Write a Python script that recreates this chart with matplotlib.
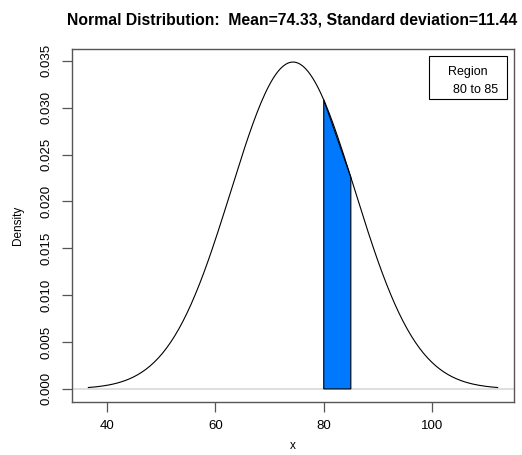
import numpy as np
import matplotlib.pyplot as plt

plt.rcParams['font.family'] = ['Liberation Sans', 'DejaVu Sans']

# distribution parameters as printed in the title
mean = 74.33
sd = 11.44
region = [80, 85]
x_ticks = [40, 60, 80, 100]
y_ticks = [0.000, 0.005, 0.010, 0.015, 0.020, 0.025, 0.030, 0.035]


def dnorm(v):
    return np.exp(-0.5 * ((v - mean) / sd) ** 2) / (sd * np.sqrt(2 * np.pi))


x = np.linspace(mean - 3.3 * sd, mean + 3.3 * sd, 200)
y = dnorm(x)

fig = plt.figure(figsize=(5.22, 4.55), dpi=100)
ax = fig.add_axes([72 / 522, 1 - 402 / 455, 442 / 522, 353 / 455])

ax.axhline(0, color='#d9d9d9', lw=1.2, zorder=1)
ax.plot(x, y, color='black', lw=0.8, zorder=3)

# shaded region, straight top edge between the two bounds
px = [region[0], region[0], region[1], region[1]]
py = [0, dnorm(region[0]), dnorm(region[1]), 0]
ax.fill(px, py, facecolor='#0079ff', edgecolor='black', lw=0.8, zorder=2)

rng = x.max() - x.min()
ax.set_xlim(x.min() - 0.04 * rng, x.max() + 0.04 * rng)
ax.set_ylim(-0.04 * y.max(), y.max() * 1.04)

ax.set_xticks(x_ticks)
ax.set_yticks(y_ticks)
ax.set_yticklabels(['%.3f' % t for t in y_ticks], rotation=90, va='center')
ax.tick_params(direction='out', length=7, width=0.9, color='#555555',
               labelsize=9.5, pad=7)
ax.tick_params(axis='x', pad=6)
for s in ax.spines.values():
    s.set_color('#555555')
    s.set_linewidth(1.0)

ax.set_xlabel('x', fontsize=8.5, labelpad=6)
ax.set_ylabel('Density', fontsize=8.5, labelpad=12)
fig.suptitle('Normal Distribution:  Mean=74.33, Standard deviation=11.44',
             x=292 / 522, y=1 - 20 / 455, fontsize=11.3, fontweight='bold', va='center')

# legend box like R's legend(title=...)
lx0, lx1 = (429 - 72) / 442, (507 - 72) / 442
ly0, ly1 = (402 - 99) / 353, (402 - 56) / 353
ax.add_patch(plt.Rectangle((lx0, ly0), lx1 - lx0, ly1 - ly0, transform=ax.transAxes,
                           fill=False, edgecolor='black', lw=0.8, zorder=5))
ax.text((lx0 + lx1) / 2, ly1 - 0.045, 'Region', transform=ax.transAxes,
        ha='center', va='center', fontsize=9)
ax.text(lx1 - 0.02, ly1 - 0.095, '%d to %d' % (region[0], region[1]),
        transform=ax.transAxes, ha='right', va='center', fontsize=9)

fig.savefig('out.png', dpi=100)
